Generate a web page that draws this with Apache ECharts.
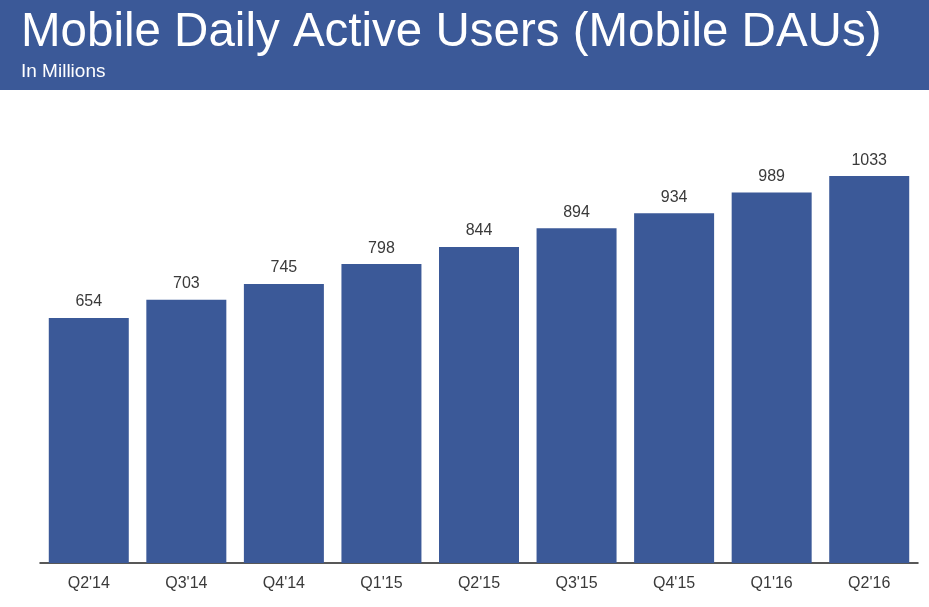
<!DOCTYPE html>
<html>
<head>
<meta charset="utf-8">
<script src="https://cdn.jsdelivr.net/npm/echarts@6/dist/echarts.min.js"></script>
<style>
html,body{margin:0;padding:0;background:#fff;}
#chart{width:929px;height:607px;}
</style>
</head>
<body>
<div id="chart"></div>
<script>
var categories = ["Q2'14","Q3'14","Q4'14","Q1'15","Q2'15","Q3'15","Q4'15","Q1'16","Q2'16"];
var dauValues = [654, 703, 745, 798, 844, 894, 934, 989, 1033];
var titleText = 'Mobile Daily Active Users (Mobile DAUs)';
var subtitleText = 'In Millions';

var chart = echarts.init(document.getElementById('chart'), null, {renderer:'canvas'});
chart.setOption({
  animation: false,
  backgroundColor: '#ffffff',
  graphic: [
    {type:'rect', left:0, top:0, shape:{width:929, height:90}, style:{fill:'#3b5998'}, z:0}
  ],
  title: [
    {text: titleText, left: 21, top: 9, padding: 0,
     textStyle:{color:'#ffffff', fontSize:47.5, fontWeight:'normal', fontFamily:'Liberation Sans'}},
    {text: subtitleText, left: 21, top: 62, padding: 0,
     textStyle:{color:'#ffffff', fontSize:19, fontWeight:'normal', fontFamily:'Liberation Sans'}}
  ],
  grid: {left:40, right:11, top:151, bottom:44, containLabel:false},
  xAxis: {
    type:'category', data: categories,
    axisLine:{show:true, lineStyle:{color:'#222222', width:1.5}},
    axisTick:{show:false},
    axisLabel:{color:'#3a3a3a', fontSize:16, margin:13, fontFamily:'Liberation Sans'}
  },
  yAxis: {type:'value', min:0, max:1100, show:false, splitLine:{show:false}},
  series: [{
    type:'bar', data: dauValues, barWidth:80,
    itemStyle:{color:'#3b5998'},
    label:{show:true, position:'top', distance:8, color:'#3a3a3a', fontSize:16, fontFamily:'Liberation Sans'}
  }]
});
</script>
</body>
</html>
